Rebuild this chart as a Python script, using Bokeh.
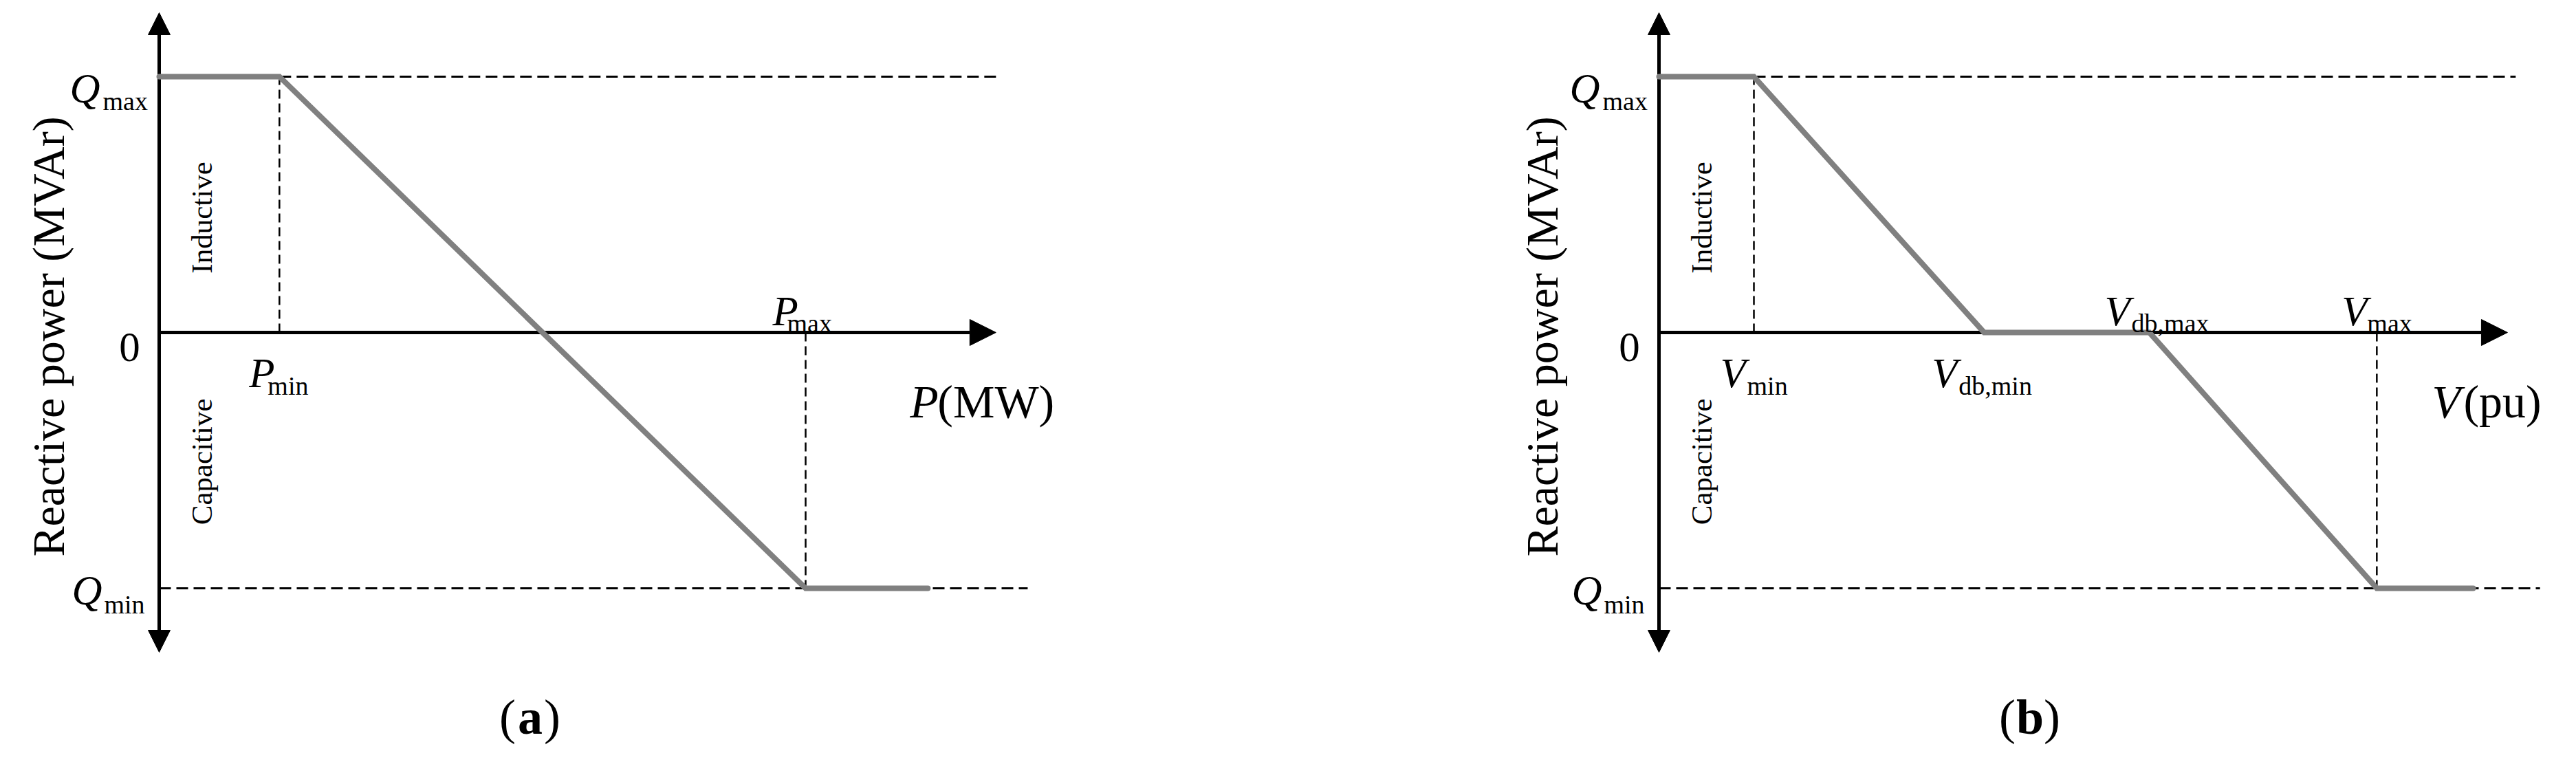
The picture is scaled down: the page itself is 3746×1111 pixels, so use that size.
import math
from bokeh.plotting import figure
from bokeh.models import Range1d, Arrow, NormalHead
from bokeh.core.properties import value
from bokeh.embed import file_html
from bokeh.resources import INLINE

# ---------------- data (per-unit values) ----------------
# (a) reactive power vs active power
P_pts = [0.0, 0.47, 2.527, 3.005]
Q_pts_a = [1.0, 1.0, -1.0, -1.0]
P_min, P_max = 0.47, 2.527
# (b) reactive power vs voltage, with dead band
V_pts = [0.0, 0.371, 1.271, 1.917, 2.806, 3.183]
Q_pts_b = [1.0, 1.0, 0.0, 0.0, -1.0, -1.0]
V_min, V_db_min, V_db_max, V_max = 0.371, 1.271, 1.917, 2.806
Q_max, Q_min = 1.0, -1.0
# axis / reference-line extents
Q_axis = [-1.25, 1.25]
P_axis_end = 3.271
V_axis_end = 3.317
ref_end_a = [3.290, 3.395]   # Qmax, Qmin dashed lines end (panel a)
ref_end_b = [3.349, 3.444]   # Qmax, Qmin dashed lines end (panel b)
ylabel = "Reactive power (MVAr)"
region_labels = ["Inductive", "Capacitive"]
panel_tags = ["a", "b"]

# ---------------- layout ----------------
W, H = 3730, 1094
PX = 372.0            # pixels per unit
AX_A, AX_B, ZERO = 239.0, 2420.0, 491.0   # page positions of the origins
MARGIN = 8.0

p = figure(width=W, height=H, output_backend="svg", toolbar_location=None,
           x_axis_type=None, y_axis_type=None, min_border=0,
           outline_line_color=None, background_fill_color="white",
           border_fill_color="white",
           x_range=Range1d((MARGIN - AX_A) / PX, (MARGIN - AX_A + W) / PX),
           y_range=Range1d((ZERO - (MARGIN + H)) / PX, (ZERO - MARGIN) / PX))
p.extra_x_ranges = {"b": Range1d((MARGIN - AX_B) / PX, (MARGIN - AX_B + W) / PX)}
p.xgrid.visible = False
p.ygrid.visible = False

SERIF = value("Liberation Serif")
GRAY = "#808080"
MAIN, SUB = 61, 38


def txt(x, y, s, dx=0, dy=0, size=MAIN, style="normal", align="left",
        angle=0.0, rn="default"):
    p.text(x=[x], y=[y], text=[s], x_offset=dx, y_offset=dy, angle=angle,
           text_font=SERIF, text_font_size=value(f"{size}px"),
           text_font_style=style, text_align=align,
           text_baseline="alphabetic", text_color="black", x_range_name=rn)


def math_label(x, y, main, sub, dmain, dsub, rn):
    txt(x, y, main, dx=dmain[0], dy=dmain[1], size=MAIN, style="italic", rn=rn)
    txt(x, y, sub, dx=dsub[0], dy=dsub[1], size=SUB, rn=rn)


def dashed(xs, ys, rn, dash, width=3):
    p.line(xs, ys, line_color="black", line_width=width, line_dash=dash,
           x_range_name=rn)


def axes(x_end, rn):
    p.add_layout(Arrow(start=NormalHead(size=32, fill_color="black", line_color="black"),
                       end=NormalHead(size=32, fill_color="black", line_color="black"),
                       x_start=0, y_start=Q_axis[0], x_end=0, y_end=Q_axis[1],
                       line_width=5, line_color="black", level="underlay",
                       x_range_name=rn))
    p.add_layout(Arrow(end=NormalHead(size=38, fill_color="black", line_color="black"),
                       start=None,
                       x_start=0, y_start=0, x_end=x_end, y_end=0,
                       line_width=5, line_color="black", level="underlay",
                       x_range_name=rn))


def common(rn, ylab_dx):
    txt(0, Q_max, "Q", dx=-130, dy=17, style="italic", rn=rn)
    txt(0, Q_max, "max", dx=-82, dy=35, size=SUB, rn=rn)
    txt(0, Q_min, "Q", dx=-127, dy=3, style="italic", rn=rn)
    txt(0, Q_min, "min", dx=-80, dy=23, size=SUB, rn=rn)
    txt(0, 0, "0", dx=-43, dy=21, align="center", rn=rn)
    txt(0, -0.016, ylabel, dx=ylab_dx, size=66, align="center",
        angle=math.pi / 2, rn=rn)
    txt(0, 0.449, region_labels[0], dx=62, size=43, align="center",
        angle=math.pi / 2, rn=rn)
    txt(0, -0.505, region_labels[1], dx=62, size=43, align="center",
        angle=math.pi / 2, rn=rn)


# ---------------- panel (a) ----------------
ra = "default"
dashed([P_min, ref_end_a[0]], [Q_max, Q_max], ra, "17 8")
dashed([0, ref_end_a[1]], [Q_min, Q_min], ra, "17 8")
dashed([P_min, P_min], [0, Q_max], ra, "13 7", 2.5)
dashed([P_max, P_max], [0, Q_min], ra, "13 7", 2.5)
axes(P_axis_end, ra)
p.line(P_pts, Q_pts_a, line_color=GRAY, line_width=8, line_cap="round",
       line_join="miter")
common(ra, -161)
math_label(P_min, 0, "P", "min", (-44, 59), (-17, 77), ra)
math_label(P_max, 0, "P", "max", (-48, -31), (-27, -14), ra)
txt(P_axis_end, 0, "P", dx=-125, dy=100, size=68, style="italic", rn=ra)
txt(P_axis_end, 0, "(MW)", dx=-85, dy=100, size=68, rn=ra)

# ---------------- panel (b) ----------------
rb = "b"
dashed([V_min, ref_end_b[0]], [Q_max, Q_max], rb, "17 8")
dashed([0, ref_end_b[1]], [Q_min, Q_min], rb, "17 8")
dashed([V_min, V_min], [0, Q_max], rb, "13 7", 2.5)
dashed([V_max, V_max], [0, Q_min], rb, "13 7", 2.5)
axes(V_axis_end, rb)
p.line(V_pts, Q_pts_b, line_color=GRAY, line_width=8, line_cap="round",
       line_join="miter", x_range_name=rb)
common(rb, -170)
math_label(V_min, 0, "V", "min", (-49, 59), (-10, 77), rb)
math_label(V_db_min, 0, "V", "db,min", (-76, 59), (-37, 77), rb)
math_label(V_db_max, 0, "V", "db,max", (-65, -31), (-26, -14), rb)
math_label(V_max, 0, "V", "max", (-51, -31), (-14, -14), rb)
txt(V_axis_end, 0, "V", dx=-110, dy=100, size=68, style="italic", rn=rb)
txt(V_axis_end, 0, "(pu)", dx=-64, dy=100, size=68, rn=rb)

# ---------------- panel tags ----------------
TAG_X, TAG_Y = 1.45, -1.505
for tag, rn in zip(panel_tags, [ra, rb]):
    txt(TAG_X, TAG_Y, "(", dx=-21, size=72, align="right", rn=rn)
    txt(TAG_X, TAG_Y, tag, size=72, style="bold", align="center", rn=rn)
    txt(TAG_X, TAG_Y, ")", dx=20, size=72, align="left", rn=rn)

open("out.html", "w").write(file_html(p, INLINE))
